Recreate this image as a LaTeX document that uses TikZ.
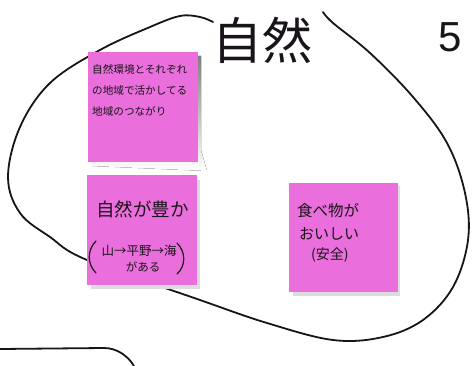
\documentclass[tikz,border=0pt]{standalone}
\usepackage{fontspec}
\newfontfamily\jp{Noto Sans CJK JP}
\definecolor{notepink}{RGB}{234,110,220}
\definecolor{ink}{RGB}{25,20,25}
\definecolor{shade}{RGB}{205,205,205}
\begin{document}
\begin{tikzpicture}[x=1pt,y=-1pt,
  note/.style={fill=notepink,draw=none,anchor=north west,inner sep=0,minimum width=#1,minimum height=#1},
  pen/.style={draw=ink,line width=1.8pt,line cap=round,line join=round},
  txt/.style={text=ink,inner sep=0,font=\jp\fontsize{#1}{#1}\selectfont}]
\useasboundingbox (0,0) rectangle (473,366);
\fill[white] (0,0) rectangle (473,366);

% big outline
\draw[pen] plot[smooth,tension=0.6] coordinates {
 (213,22) (200,17) (180,16) (150,27) (100,50) (50,83) (20,127) (8,177)
 (20,213) (50,237) (87,260) (200,300) (267,323) (333,340) (383,337)
 (423,320) (453,287) (468,240) (465,193) (447,143) (413,97) (370,53)
 (333,23) (323,12)};

% bottom-left outline
\draw[pen] (0,349) -- (104,348) .. controls (117,348) and (128,356) .. (134,366);

% shadows
\fill[shade] (92,56) -- (201,56) -- (201,150) -- (207,171) -- (92,166) -- cycle;
\fill[shade!70] (91,180) rectangle (200,289);
\fill[shade!70] (293,186) rectangle (400,296);

% sticky notes
\node[note=110pt] (n1) at (88,52) {};
\node[note=110pt] (n2) at (87,175) {};
\node[note=109pt] (n3) at (289,183) {};

% title
\node[txt=50] (title) at (262,40) {自然};
\node[txt=42,font=\fontspec{Liberation Sans}\fontsize{42}{42}\selectfont] (num) at (450,37) {5};

% note 1 text
\node[txt=10.6,anchor=north west,align=left,font=\jp\fontsize{10.6}{21}\selectfont] (t1) at (92,64)
  {自然環境とそれぞれ\\の地域で活かしてる\\地域のつながり};

% note 2 text
\node[txt=18.5,anchor=north west] (t2a) at (96,201) {自然が豊か};
\node[txt=12.5] (t2b) at (139,251) {山→平野→海};
\node[txt=11.5] (t2c) at (143,267) {がある};
\draw[pen,line width=1.2pt] (96,241) .. controls (87,250) and (87,264) .. (96,273);
\draw[pen,line width=1.2pt] (177,243) .. controls (186,252) and (186,266) .. (177,274);

% note 3 text
\node[txt=15.5,anchor=north west] (t3a) at (297,203) {食べ物が};
\node[txt=15,anchor=north west] (t3b) at (299,227) {おいしい};
\node[txt=14,anchor=north west] (t3c) at (311,248) {(安全)};
\end{tikzpicture}
\end{document}
